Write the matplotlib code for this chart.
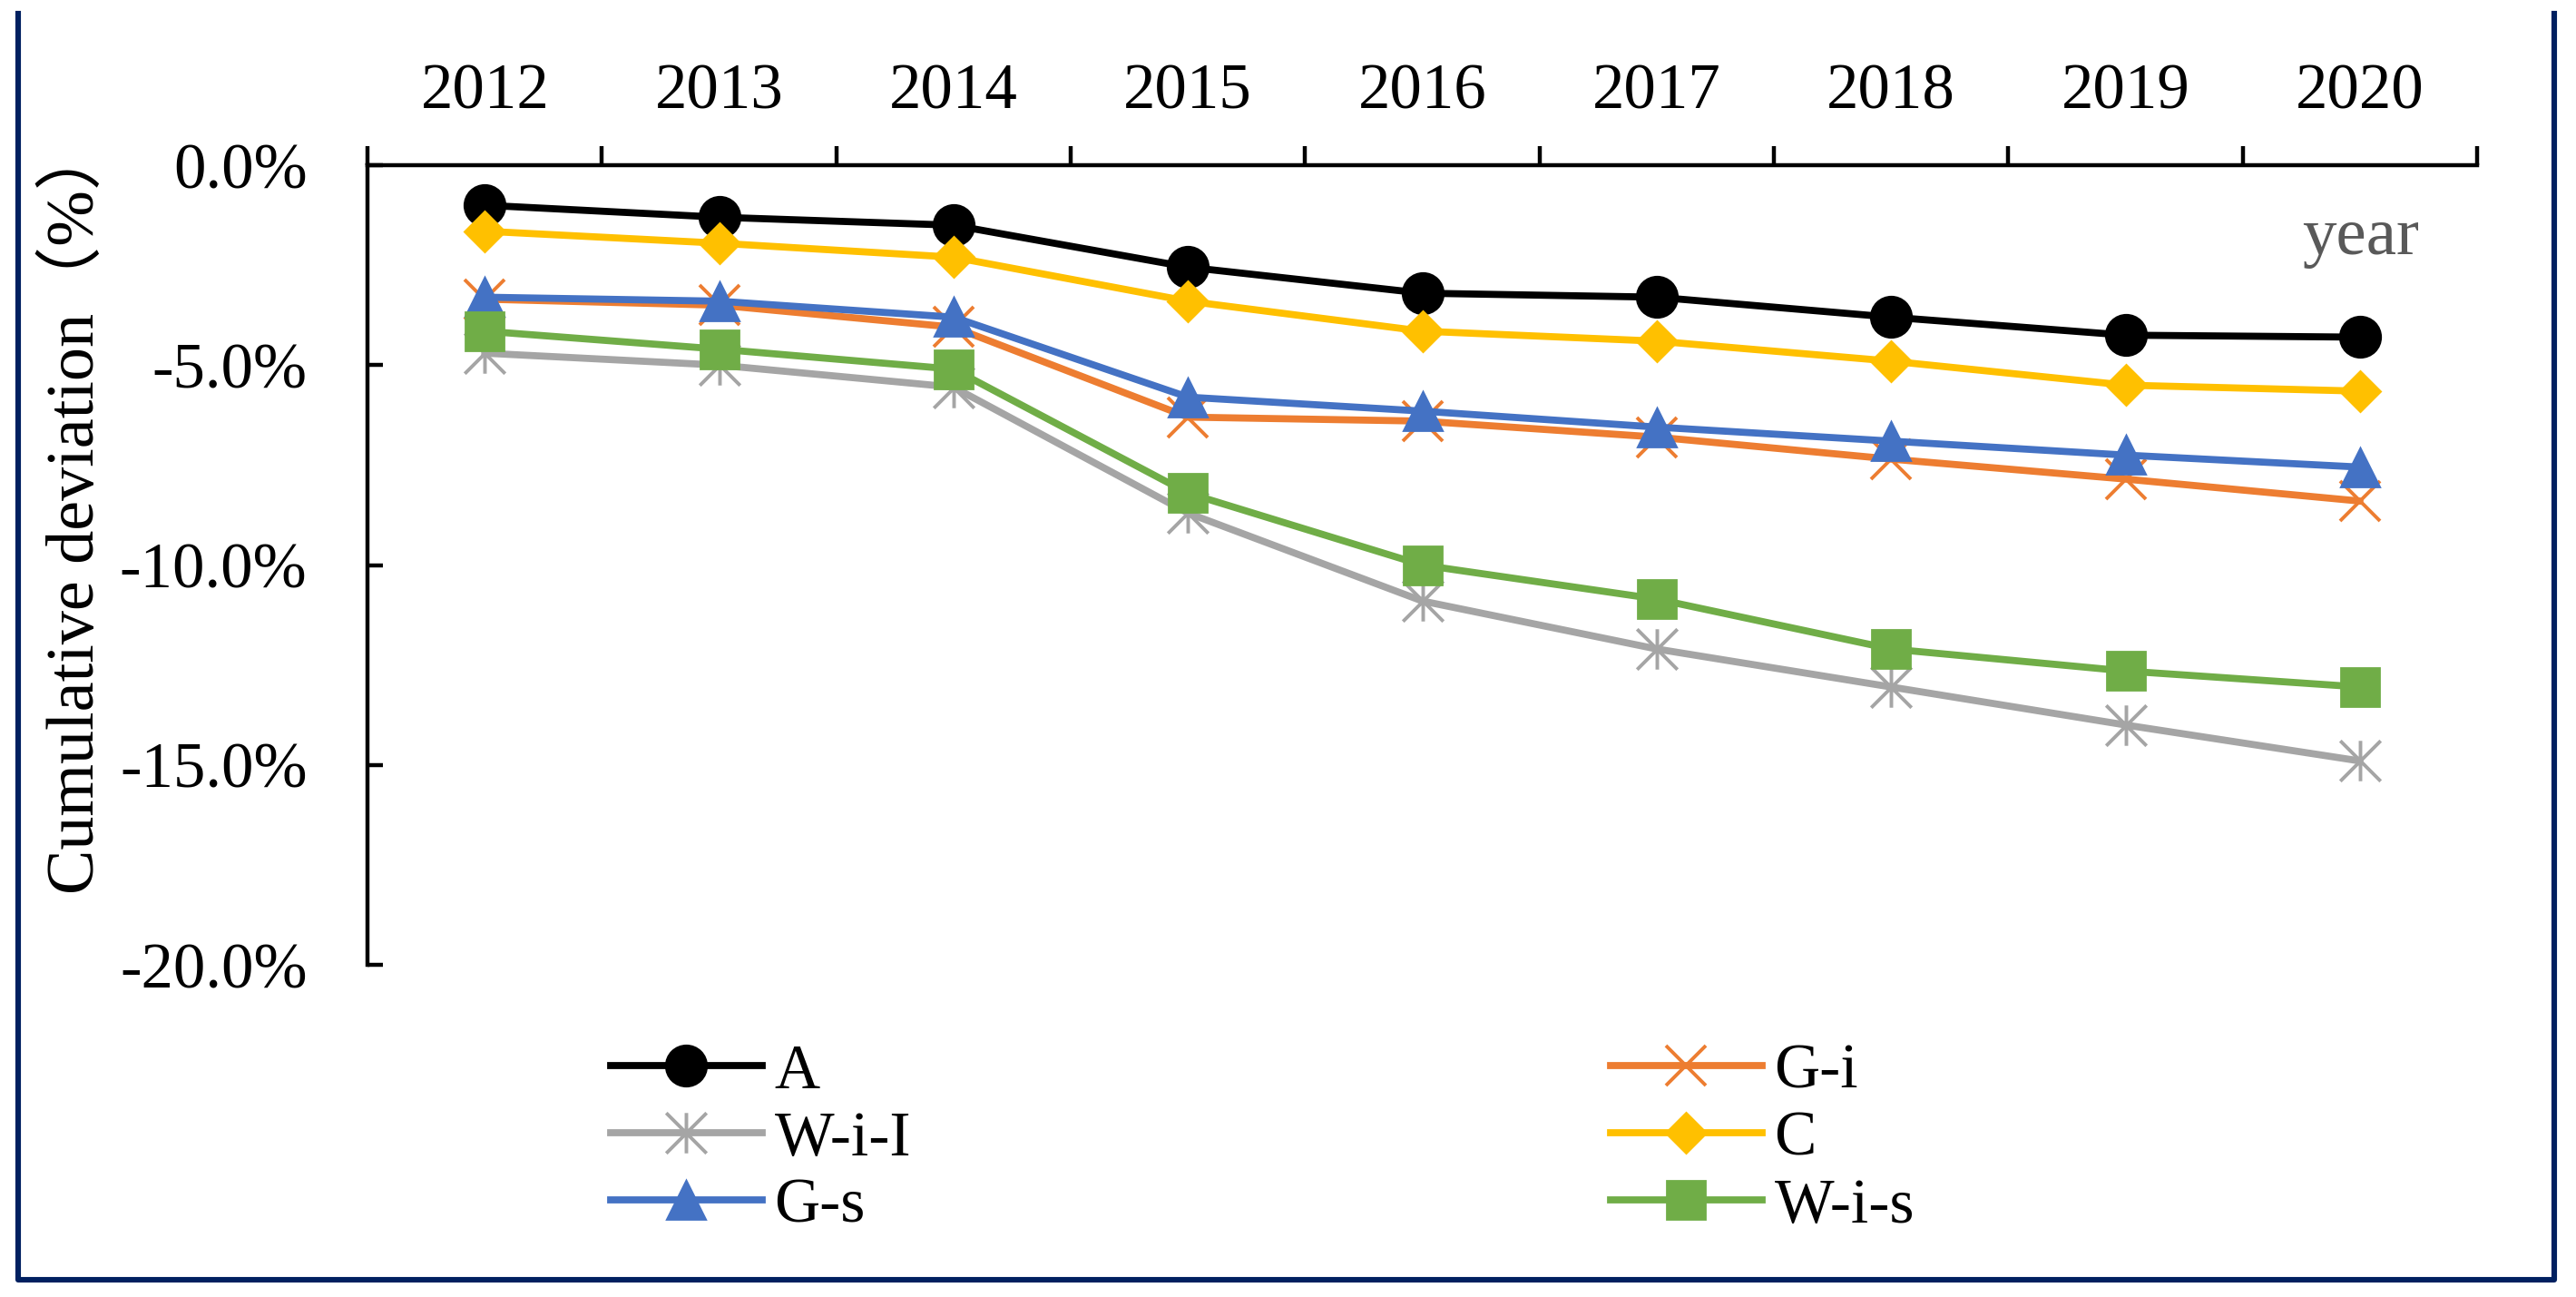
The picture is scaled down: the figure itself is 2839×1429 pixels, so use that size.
import numpy as np
import matplotlib
matplotlib.use("Agg")
import matplotlib.pyplot as plt
from matplotlib.path import Path
from matplotlib.lines import Line2D

plt.rcParams['font.family'] = ['Liberation Serif', 'Noto Sans CJK SC', 'DejaVu Sans']

years = ['2012', '2013', '2014', '2015', '2016', '2017', '2018', '2019', '2020']
A     = [-1.0, -1.3, -1.5, -2.55, -3.2, -3.3, -3.8, -4.25, -4.3]
G_i   = [-3.35, -3.5, -4.05, -6.3, -6.4, -6.8, -7.35, -7.85, -8.4]
W_i_I = [-4.7, -5.0, -5.55, -8.7, -10.9, -12.1, -13.05, -14.0, -14.9]
C     = [-1.65, -1.95, -2.3, -3.4, -4.15, -4.4, -4.9, -5.5, -5.65]
G_s   = [-3.3, -3.4, -3.8, -5.8, -6.15, -6.55, -6.9, -7.25, -7.55]
W_i_s = [-4.15, -4.6, -5.1, -8.2, -10.0, -10.85, -12.1, -12.65, -13.05]
yticks = [0, -5, -10, -15, -20]

# asterisk marker: vertical bar plus an X
star = Path([(0, -1), (0, 1), (-1, -1), (1, 1), (-1, 1), (1, -1)],
            [Path.MOVETO, Path.LINETO] * 3)

fig = plt.figure(figsize=(2839/200, 1429/200), dpi=200)
ax = fig.add_axes([0.1427, 0.2561, 0.8189, 0.6165])
x = np.arange(len(years))

lw = 2.8
hA, = ax.plot(x, A, color='#000000', lw=lw, marker='o', ms=16, label='A', clip_on=False)
hGi, = ax.plot(x, G_i, color='#ED7D31', lw=lw, marker='x', ms=16, mew=1.4, label='G-i', clip_on=False)
hWI, = ax.plot(x, W_i_I, color='#A5A5A5', lw=lw, marker=star, ms=16, mew=1.4,
               markerfacecolor='none', label='W-i-I', clip_on=False)
hC, = ax.plot(x, C, color='#FFC000', lw=lw, marker='D', ms=11, label='C', clip_on=False)
hGs, = ax.plot(x, G_s, color='#4472C4', lw=lw, marker='^', ms=15, label='G-s', clip_on=False)
hWs, = ax.plot(x, W_i_s, color='#70AD47', lw=lw, marker='s', ms=15, label='W-i-s', clip_on=False)

ax.set_xlim(-0.5, 8.5)
ax.set_ylim(-20, 0)
ax.xaxis.tick_top()
ax.set_xticks(np.arange(-0.5, 9.0, 1.0))
ax.set_xticklabels([])
ax.set_xticks(x, minor=True)
ax.set_xticklabels(years, minor=True)
ax.tick_params(axis='x', which='major', direction='out', length=7.5, width=1.6,
               top=True, bottom=False)
ax.tick_params(axis='x', which='minor', length=0, pad=17, labelsize=25.5,
               top=True, bottom=False, labeltop=True, labelbottom=False)
ax.set_yticks(yticks)
ax.set_yticklabels([f'{v:.1f}%' for v in yticks])
ax.tick_params(axis='y', direction='in', length=6, width=1.6, pad=24, labelsize=25.5)
for s in ['right', 'bottom']:
    ax.spines[s].set_visible(False)
for s in ['left', 'top']:
    ax.spines[s].set_linewidth(1.6)

fig.text(84/2839, 1 - 560/1429, 'Cumulative deviation（%）', rotation=90,
         ha='center', va='center', fontsize=26.7)
fig.text(2602/2839, 1 - 280/1429, 'year', ha='center', va='baseline',
         fontsize=27, color='#595959')

leg = fig.legend([hA, hWI, hGs, hGi, hC, hWs], ['A', 'W-i-I', 'G-s', 'G-i', 'C', 'W-i-s'],
                 ncol=2, loc='upper left', bbox_to_anchor=(673/2839, 1 - 1150/1429),
                 frameon=False, fontsize=25, handlelength=2.4, handletextpad=0.2,
                 columnspacing=11.1, labelspacing=0.15, borderpad=0, borderaxespad=0)

# outer frame (open at the top)
fig.add_artist(Line2D([20/2839, 20/2839, 2815/2839, 2815/2839],
                      [1 - 15/1429, 1 - 1410/1429, 1 - 1410/1429, 1 - 15/1429],
                      transform=fig.transFigure, color='#002060', lw=2.2))

plt.savefig('out.png', dpi=200)
